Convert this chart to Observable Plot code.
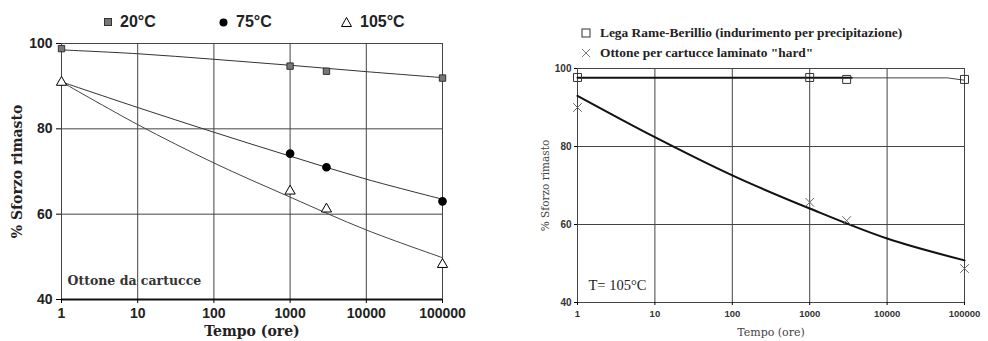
<!DOCTYPE html>
<html>
<head>
<meta charset="utf-8">
<script src="https://cdn.jsdelivr.net/npm/d3@7"></script>
<script src="https://cdn.jsdelivr.net/npm/@observablehq/plot@0.6"></script>
<style>
  html, body { margin: 0; padding: 0; background: #fff; }
  #page { position: relative; width: 988px; height: 341px; overflow: hidden; background: #fff; }
  .abs { position: absolute; }
  .lgL { position: absolute; top: 13px; font: bold 16px "Liberation Sans", Arial, sans-serif; color: #222; display: flex; align-items: center; gap: 8px; }
  .lgR { position: absolute; left: 581px; font: bold 13.4px "Liberation Serif", "Times New Roman", serif; color: #222; display: flex; align-items: center; gap: 9px; }
  svg.sym { overflow: visible; }
</style>
</head>
<body>
<div id="page"></div>
<script>
// ---------- LEFT CHART DATA (Ottone da cartucce) ----------
const decades = [1, 10, 100, 1000, 10000, 100000];
const yTicksL = [40, 60, 80, 100];
const seriesNamesL = ["20°C", "75°C", "105°C"];

const time20 = [1, 1000, 3000, 100000];
const pts20 = [98.8, 94.7, 93.5, 91.9];
const time75 = [1000, 3000, 100000];
const pts75 = [74.2, 71.0, 63.0];
const time105 = [1, 1000, 3000, 100000];
const pts105 = [90.9, 65.4, 61.2, 48.2];

const fit20 = [98.5, 97.6, 96.3, 94.9, 93.4, 92.0];
const fit75 = [91.0, 85.0, 79.2, 73.6, 68.2, 63.5];
const fit105 = [91.0, 81.0, 72.0, 64.0, 56.3, 49.8];

// ---------- RIGHT CHART DATA (T = 105°C) ----------
const yTicksR = [40, 60, 80, 100];
const seriesNamesR = ["Lega Rame-Berillio (indurimento per precipitazione)", "Ottone per cartucce laminato \"hard\""];
const timeCuBe = [1, 1000, 3000, 100000];
const ptsCuBe = [97.7, 97.7, 97.2, 97.2];
const timeBrass = [1, 1000, 3000, 100000];
const ptsBrass = [90.0, 65.7, 61.0, 48.7];
const fitBrass = [93.0, 82.4, 72.6, 64.1, 56.4, 50.8];
const cuBeThickT = [1, 3500];
const cuBeThickV = [97.6, 97.6];
const cuBeThinT = [3500, 60000, 100000];
const cuBeThinV = [97.6, 97.6, 97.0];

const zip = (xs, ys) => xs.map((x, i) => ({x, y: ys[i]}));
const fmt = d3.format("d");
const page = document.getElementById("page");
const SANS = "Liberation Sans, Arial, sans-serif";
const DSERIF = "DejaVu Serif, serif";
const TSERIF = "Liberation Serif, Times New Roman, serif";

// ---------- LEFT PLOT ----------
const left = Plot.plot({
  width: 480, height: 308,
  marginTop: 10, marginBottom: 42, marginLeft: 61, marginRight: 38,
  x: {type: "log", domain: [1, 100000]},
  y: {domain: [40, 100]},
  style: {background: "white", overflow: "visible"},
  marks: [
    Plot.gridX(decades, {stroke: "#444", strokeOpacity: 1, strokeWidth: 1}),
    Plot.gridY(yTicksL, {stroke: "#444", strokeOpacity: 1, strokeWidth: 1}),
    Plot.frame({stroke: "#444"}),
    Plot.ruleY([40], {stroke: "#111", strokeWidth: 2}),
    Plot.axisX({ticks: decades, tickFormat: fmt, tickSize: 4, tickPadding: 5, label: null,
      fontSize: 14, fontWeight: "bold", fontFamily: SANS, fill: "#222"}),
    Plot.axisY({ticks: yTicksL, tickSize: 5, tickPadding: 4, label: null,
      fontSize: 14, fontWeight: "bold", fontFamily: SANS, fill: "#222"}),
    Plot.line(zip(decades, fit20), {x: "x", y: "y", curve: "catmull-rom", stroke: "#333", strokeWidth: 1}),
    Plot.line(zip(decades, fit75), {x: "x", y: "y", curve: "catmull-rom", stroke: "#333", strokeWidth: 1}),
    Plot.line(zip(decades, fit105), {x: "x", y: "y", curve: "catmull-rom", stroke: "#444", strokeWidth: 1}),
    Plot.dot(zip(time20, pts20), {x: "x", y: "y", symbol: "square", r: 3.6, fill: "#777", stroke: "#333", strokeWidth: 1}),
    Plot.dot(zip(time75, pts75), {x: "x", y: "y", symbol: "circle", r: 3.6, fill: "#000", stroke: "#000"}),
    Plot.dot(zip(time105, pts105), {x: "x", y: "y", symbol: "triangle", r: 3.8, fill: "white", stroke: "#000", strokeWidth: 1}),
    Plot.text(["Ottone da cartucce"], {frameAnchor: "bottom-left", dx: 6, dy: -19, textAnchor: "start", lineAnchor: "middle",
      fontSize: 12.5, fontWeight: "bold", fontFamily: DSERIF, fill: "#333"}),
    Plot.text(["Tempo (ore)"], {frameAnchor: "bottom", dy: 32, lineAnchor: "middle", textAnchor: "middle",
      fontSize: 14, fontWeight: "bold", fontFamily: DSERIF, fill: "#222"}),
    Plot.text(["% Sforzo rimasto"], {frameAnchor: "left", dx: -44, rotate: -90, lineAnchor: "middle", textAnchor: "middle",
      fontSize: 14, fontWeight: "bold", fontFamily: DSERIF, fill: "#222"})
  ]
});
left.classList.add("abs");
left.style.left = "0px"; left.style.top = "33px";
page.appendChild(left);

// left legend (HTML)
const symL = [
  '<svg class="sym" width="8" height="8"><rect x="0.5" y="0.5" width="7" height="7" fill="#777" stroke="#333"/></svg>',
  '<svg class="sym" width="9" height="9"><circle cx="4.5" cy="4.5" r="4" fill="#000"/></svg>',
  '<svg class="sym" width="11" height="10"><path d="M5.5,0.5 L10.5,9.5 L0.5,9.5 Z" fill="white" stroke="#000"/></svg>'
];
const legLeftX = [104, 219, 341];
seriesNamesL.forEach((n, i) => {
  const d = document.createElement("div");
  d.className = "lgL";
  d.style.left = legLeftX[i] + "px";
  d.innerHTML = symL[i] + "<span>" + n + "</span>";
  page.appendChild(d);
});

// ---------- RIGHT PLOT ----------
const right = Plot.plot({
  width: 448, height: 283,
  marginTop: 10, marginBottom: 39, marginLeft: 37, marginRight: 24,
  x: {type: "log", domain: [1, 100000]},
  y: {domain: [40, 100]},
  style: {background: "white", overflow: "visible"},
  marks: [
    Plot.gridX(decades, {stroke: "#444", strokeOpacity: 1, strokeWidth: 1}),
    Plot.gridY(yTicksR, {stroke: "#444", strokeOpacity: 1, strokeWidth: 1}),
    Plot.frame({stroke: "#444"}),
    Plot.axisX({ticks: decades, tickFormat: fmt, tickSize: 3, tickPadding: 5, label: null,
      fontSize: 9.5, fontWeight: "bold", fontFamily: SANS, fill: "#333"}),
    Plot.axisY({ticks: yTicksR, tickSize: 3, tickPadding: 3, label: null,
      fontSize: 10, fontWeight: "bold", fontFamily: SANS, fill: "#333"}),
    Plot.line(zip(cuBeThickT, cuBeThickV), {x: "x", y: "y", stroke: "#111", strokeWidth: 2}),
    Plot.line(zip(cuBeThinT, cuBeThinV), {x: "x", y: "y", stroke: "#444", strokeWidth: 1}),
    Plot.line(zip(decades, fitBrass), {x: "x", y: "y", curve: "catmull-rom", stroke: "#111", strokeWidth: 2}),
    Plot.dot(zip(timeCuBe, ptsCuBe), {x: "x", y: "y", symbol: "square", r: 4.5, fill: "none", stroke: "#333", strokeWidth: 1}),
    Plot.dot(zip(timeBrass, ptsBrass), {x: "x", y: "y", symbol: "times", r: 4, stroke: "#666", strokeWidth: 1}),
    Plot.text(["T= 105°C"], {frameAnchor: "bottom-left", dx: 11, dy: -17, textAnchor: "start", lineAnchor: "middle",
      fontSize: 14.5, fontFamily: TSERIF, fill: "#222"}),
    Plot.text(["Tempo (ore)"], {frameAnchor: "bottom", dy: 30, lineAnchor: "middle", textAnchor: "middle",
      fontSize: 11, fontFamily: DSERIF, fill: "#444"}),
    Plot.text(["% Sforzo rimasto"], {frameAnchor: "left", dx: -32, rotate: -90, lineAnchor: "middle", textAnchor: "middle",
      fontSize: 10.5, fontFamily: DSERIF, fill: "#444"})
  ]
});
right.classList.add("abs");
right.style.left = "540px"; right.style.top = "58px";
page.appendChild(right);

// right legend (HTML)
const symR = [
  '<svg class="sym" width="10" height="10"><rect x="1" y="1" width="8" height="8" fill="none" stroke="#333"/></svg>',
  '<svg class="sym" width="10" height="10"><path d="M1,1 L9,9 M9,1 L1,9" stroke="#777" fill="none"/></svg>'
];
const legRightY = [25, 45];
seriesNamesR.forEach((n, i) => {
  const d = document.createElement("div");
  d.className = "lgR";
  d.style.top = legRightY[i] + "px";
  d.innerHTML = symR[i] + "<span>" + n + "</span>";
  page.appendChild(d);
});
</script>
</body>
</html>
